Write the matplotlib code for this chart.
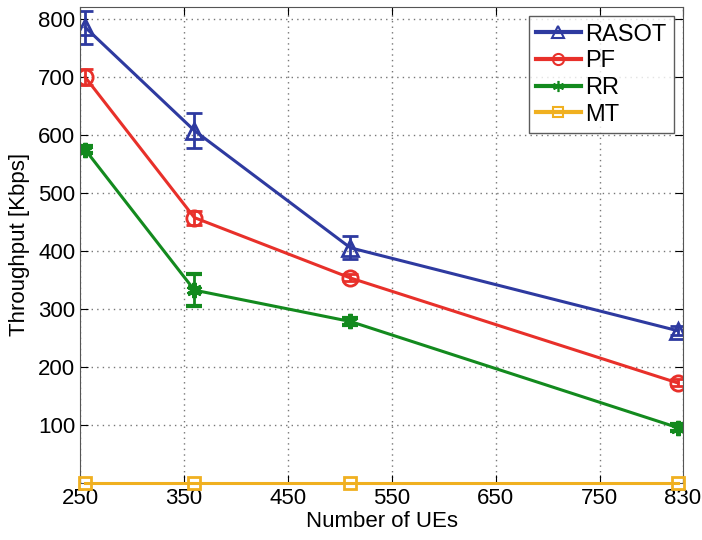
import numpy as np
import matplotlib
matplotlib.use("Agg")
import matplotlib.pyplot as plt
from matplotlib.lines import Line2D

plt.rcParams["font.family"] = ["Liberation Sans", "DejaVu Sans"]

BLUE, RED, GREEN, GOLD = "#2e3aa0", "#e8302a", "#138a1e", "#f0b020"

ues = [255, 360, 510, 825]
rasot = [785, 607, 405, 262]
rasot_err = [28, 30, 20, 8]
pf = [699, 457, 353, 172]
pf_err = [14, 12, 6, 6]
rr = [574, 332, 278, 95]
rr_err = [6, 28, 6, 6]
mt = [0, 0, 0, 0]

xticks = [250, 350, 450, 550, 650, 750, 830]
yticks = [100, 200, 300, 400, 500, 600, 700, 800]

fig = plt.figure(figsize=(7.02, 5.40), dpi=100)
ax = fig.add_axes([0.114, 0.106, 0.859, 0.881])

STAR = (6, 2, 0)
kw = dict(lw=2.2, mew=2.0, capsize=6, capthick=2.0, elinewidth=2.0)
ax.errorbar(ues, rasot, yerr=rasot_err, color=BLUE, marker="^", ms=11,
            mfc="none", **kw)
ax.errorbar(ues, pf, yerr=pf_err, color=RED, marker="o", ms=11,
            mfc="none", **kw)
ax.errorbar(ues, rr, yerr=rr_err, color=GREEN, marker=STAR, ms=11,
            **{**kw, "mew": 3.0})
ax.plot(ues, mt, color=GOLD, marker="s", ms=9, mfc="none", mew=2.0,
        lw=2.2, clip_on=False, zorder=5)

ax.set_xlim(250, 830)
ax.set_ylim(0, 820)
ax.set_xticks(xticks)
ax.set_yticks(yticks)
ax.tick_params(direction="in", top=True, right=True, labelsize=16, length=6)
ax.grid(True, ls=(0, (1, 3)), color="#777777", lw=1.0)
ax.set_xlabel("Number of UEs", fontsize=16, labelpad=2)
ax.set_ylabel("Throughput [Kbps]", fontsize=16, labelpad=6)
for s in ax.spines.values():
    s.set_color("#555555")

handles = [
    Line2D([], [], color=BLUE, lw=3, marker="^", ms=8, mfc="none", mew=1.5),
    Line2D([], [], color=RED, lw=3, marker="o", ms=8, mfc="none", mew=1.5),
    Line2D([], [], color=GREEN, lw=3, marker=STAR, ms=8, mew=1.2),
    Line2D([], [], color=GOLD, lw=3, marker="s", ms=7, mfc="none", mew=1.5),
]
leg = ax.legend(handles, ["RASOT", "PF", "RR", "MT"], loc="upper right",
                fontsize=17, handlelength=1.9, fancybox=False,
                edgecolor="#333333", borderaxespad=0.4, handletextpad=0.2,
                labelspacing=0.2, borderpad=0.3)
leg.get_frame().set_linewidth(1.0)

fig.savefig("out.png", dpi=100)
